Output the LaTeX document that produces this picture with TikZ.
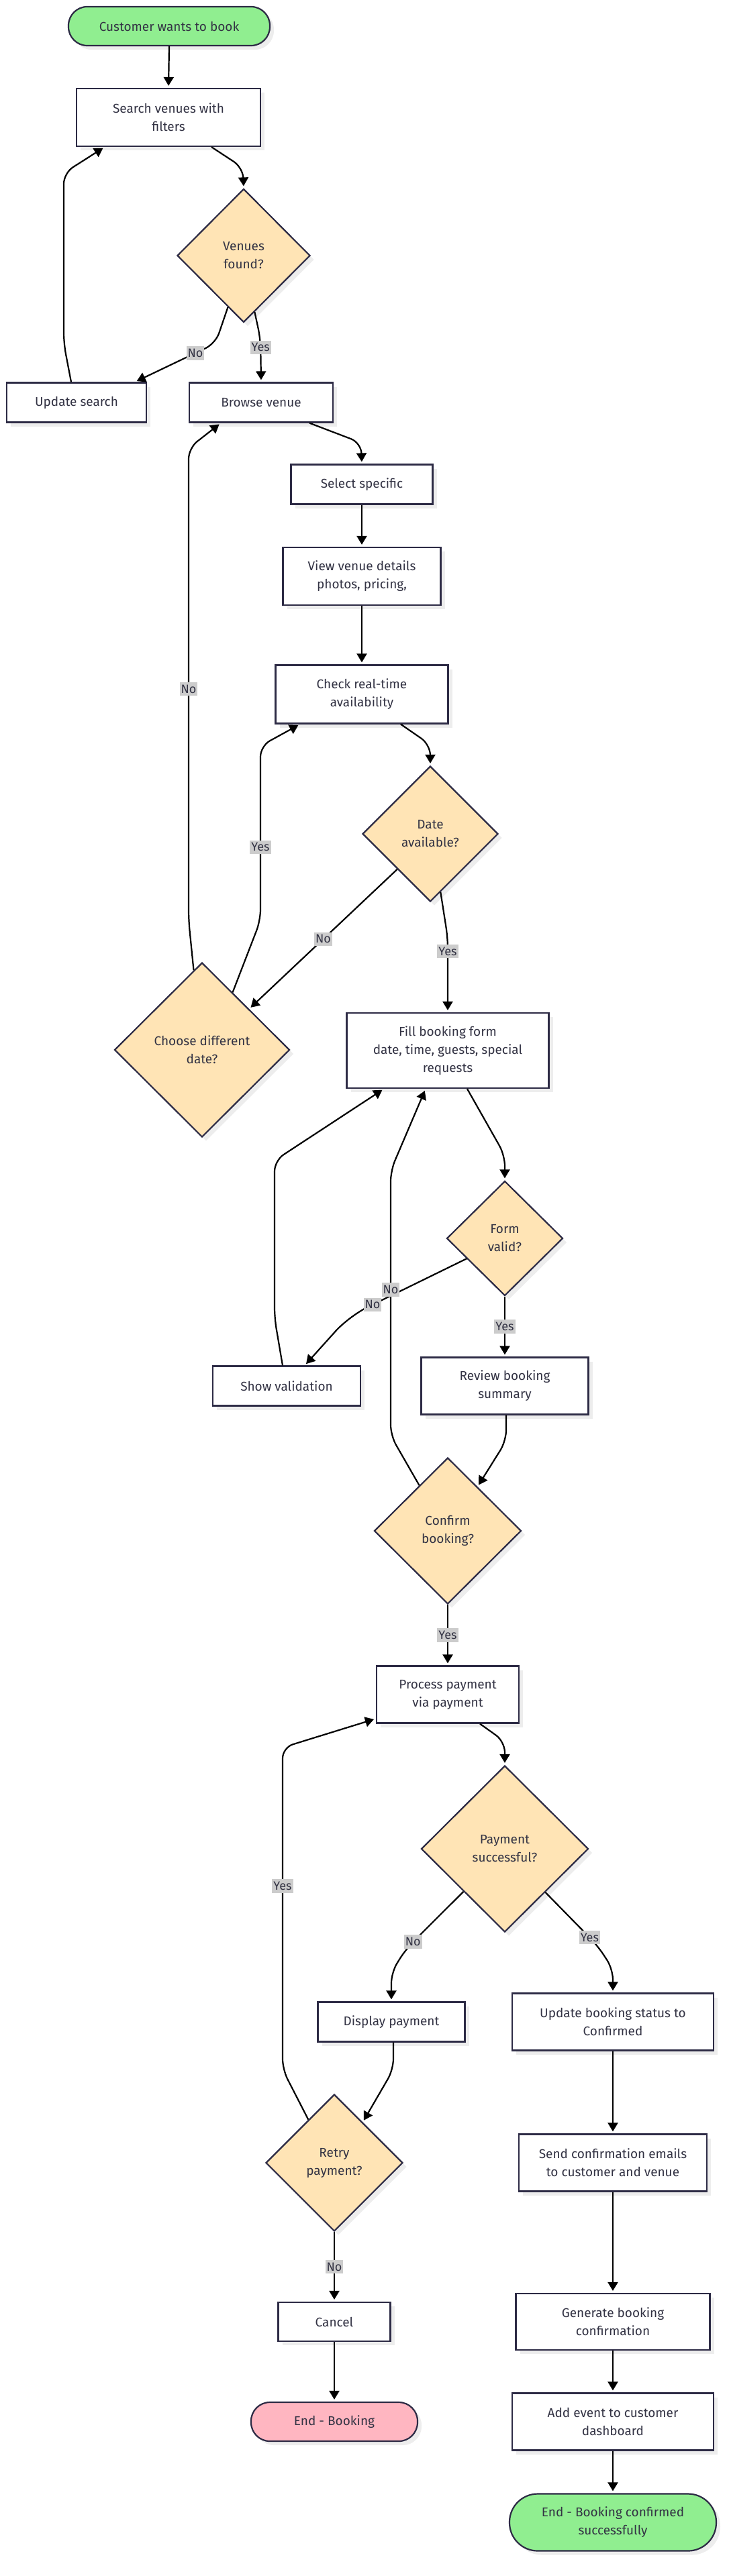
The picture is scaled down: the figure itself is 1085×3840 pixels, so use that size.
\documentclass[tikz,border=0pt]{standalone}
\usepackage{fontspec}
\setmainfont{Fira Sans}
\usetikzlibrary{shapes.geometric,shadows,arrows.meta}
\definecolor{ink}{HTML}{333344}
\definecolor{edgec}{HTML}{2D2B45}
\definecolor{okgreen}{HTML}{90EE90}
\definecolor{decide}{HTML}{FFE4B5}
\definecolor{failpink}{HTML}{FFB6C1}
\definecolor{lblgray}{HTML}{CCCCCC}

\begin{document}
\begin{tikzpicture}[x=1pt,y=-1pt,
    every node/.style={font=\fontsize{19}{27}\selectfont, text=ink},
    base/.style={draw=edgec, line width=2.2pt, align=center, inner sep=0pt,
        drop shadow={shadow xshift=6pt,shadow yshift=-6pt,fill=black!7,opacity=1}},
    box/.style={base, rectangle, fill=white},
    pill/.style={base, rectangle, rounded corners=28pt},
    choice/.style={base, diamond, aspect=1, fill=decide},
    flow/.style={draw=black, line width=2.2pt, -{Triangle[length=13pt,width=15pt]},
        shorten >=3pt, rounded corners=16pt},
    lbl/.style={fill=lblgray, font=\fontsize{18}{20}\selectfont, inner xsep=2pt, inner ysep=4pt, sharp corners}]
    \useasboundingbox (0,0) rectangle (1085,3840);

    % nodes
    \node[pill, fill=okgreen, minimum width=300pt, minimum height=58pt] (start) at (252,39) {Customer wants to book};
    \node[box, minimum width=274pt, minimum height=86pt] (search) at (251,175) {Search venues with\\filters};
    \node[choice, minimum width=198pt, minimum height=199pt] (venues) at (363,381) {Venues\\found?};
    \node[box, minimum width=208pt, minimum height=59pt] (update) at (114,600) {Update search};
    \node[box, minimum width=214pt, minimum height=59pt] (browse) at (389,600) {Browse venue};
    \node[box, minimum width=211pt, minimum height=59pt] (select) at (539,722) {Select specific};
    \node[box, minimum width=235pt, minimum height=86pt] (details) at (539,859) {View venue details\\photos, pricing,};
    \node[box, minimum width=257pt, minimum height=87pt] (check) at (539,1035) {Check real-time\\availability};
    \node[choice, minimum width=202pt, minimum height=202pt] (dateok) at (641,1243) {Date\\available?};
    \node[choice, minimum width=261pt, minimum height=260pt] (choose) at (301,1565) {Choose different\\date?};
    \node[box, minimum width=301pt, minimum height=112pt] (form) at (667,1566) {Fill booking form\\date, time, guests, special\\requests};
    \node[choice, minimum width=173pt, minimum height=171pt] (valid) at (752,1846) {Form\\valid?};
    \node[box, minimum width=220pt, minimum height=59pt] (showval) at (427,2066) {Show validation};
    \node[box, minimum width=249pt, minimum height=85pt] (review) at (752,2066) {Review booking\\summary};
    \node[choice, minimum width=219pt, minimum height=218pt] (confirm) at (667,2282) {Confirm\\booking?};
    \node[box, minimum width=212pt, minimum height=85pt] (payment) at (667,2526) {Process payment\\via payment};
    \node[choice, minimum width=249pt, minimum height=248pt] (paid) at (752,2756) {Payment\\successful?};
    \node[box, minimum width=219pt, minimum height=59pt] (display) at (583,3014) {Display payment};
    \node[box, minimum width=300pt, minimum height=85pt] (status) at (913,3014) {Update booking status to\\Confirmed};
    \node[choice, minimum width=204pt, minimum height=204pt] (retry) at (498,3224) {Retry\\payment?};
    \node[box, minimum width=280pt, minimum height=85pt] (emails) at (913,3224) {Send confirmation emails\\to customer and venue};
    \node[box, minimum width=167pt, minimum height=58pt] (cancel) at (498,3461) {Cancel};
    \node[box, minimum width=289pt, minimum height=84pt] (generate) at (913,3461) {Generate booking\\confirmation};
    \node[pill, fill=failpink, minimum width=248pt, minimum height=58pt] (endfail) at (498,3610) {End - Booking};
    \node[box, minimum width=300pt, minimum height=85pt] (addevent) at (913,3610) {Add event to customer\\dashboard};
    \node[pill, fill=okgreen, minimum width=308pt, minimum height=85pt, rounded corners=42pt] (endok) at (913,3760) {End - Booking confirmed\\successfully};

    % straight connectors
    \foreach \a/\b in {start/search, select/details, details/check, status/emails,
                       emails/generate, generate/addevent, addevent/endok, cancel/endfail}
        \draw[flow] (\a.south) -- (\b.north);
    \draw[flow] (valid.south) -- node[lbl]{Yes} (review.north);
    \draw[flow] (confirm.south) -- node[lbl]{Yes} (payment.north);
    \draw[flow] (retry.south) -- node[lbl]{No} (cancel.north);

    % bent connectors
    \draw[flow] ([xshift=64pt]search.south) -- (362,250) -- (venues.north);
    \draw[flow] (venues.-107) -- (321,512) -- node[lbl,pos=0.25]{No} ([xshift=87pt]update.north);
    \draw[flow] (venues.-79) -- (388,505) -- node[lbl,pos=0.2]{Yes} (browse.north);
    \draw[flow] ([xshift=-8pt]update.north) -- (95,512) -- (95,258) -- ([xshift=-95pt]search.south);
    \draw[flow] ([xshift=72pt]browse.south) -- (538,660) -- (select.north);
    \draw[flow] ([xshift=58pt]check.south) -- (641,1110) -- (dateok.north);
    \draw[flow] (dateok.-133) -- node[lbl]{No} (choose.41);
    \draw[flow] (dateok.-80) -- (667,1398) -- node[lbl,pos=0.18]{Yes} (form.north);
    \draw[flow] (choose.62) -- (388,1372) -- node[lbl,pos=0.42]{Yes} (388,1112) -- ([xshift=-92pt]check.south);
    \draw[flow] (choose.96) -- (281,1372) -- node[lbl,pos=0.49]{No} (281,668) -- ([xshift=-60pt]browse.south);
    \draw[flow] ([xshift=29pt]form.south) -- (752,1722) -- (valid.north);
    \draw[flow, rounded corners=30pt] (valid.-152) -- node[lbl,pos=0.8]{No} (520,1962) -- ([xshift=27pt]showval.north);
    \draw[flow] ([xshift=-6pt]showval.north) -- (409,1965) -- (409,1730) -- ([xshift=-95pt]form.south);
    \draw[flow] ([xshift=2pt]review.south) -- (754,2148) -- (confirm.56);
    \draw[flow] (confirm.122) -- (582,2140) -- node[lbl,pos=0.55]{No} (582,1745) -- ([xshift=-33pt]form.south);
    \draw[flow] ([xshift=48pt]payment.south) -- (752,2596) -- (paid.north);
    \draw[flow] (paid.-134) -- node[lbl,pos=0.88]{No} (605,2905) -- (583,2940) -- (display.north);
    \draw[flow] (paid.-47) -- node[lbl,pos=0.85]{Yes} (890,2900) -- (913,2935) -- (status.north);
    \draw[flow] ([xshift=3pt]display.south) -- (586,3085) -- (retry.55);
    \draw[flow] (retry.121) -- (421,3085) -- node[lbl,pos=0.57]{Yes} (421,2605) -- ([yshift=-36pt]payment.west);
\end{tikzpicture}
\end{document}
